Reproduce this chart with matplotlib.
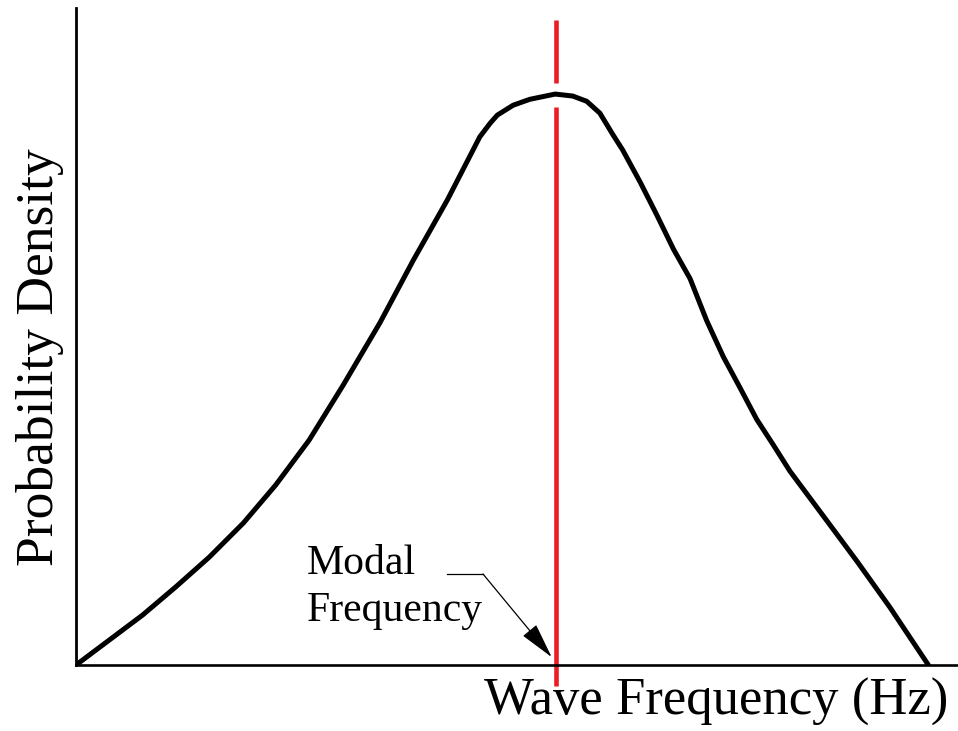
import numpy as np
import matplotlib.pyplot as plt

freq = [0.0, 3.8, 7.6, 11.4, 15.2, 19.1, 22.8, 26.6, 30.5, 34.7, 38.5, 42.4,
        46.1, 47.3, 48.1, 49.9, 51.8, 54.7, 56.7, 58.3, 59.8, 61.3, 62.4,
        64.4, 66.3, 68.2, 70.1, 72.0, 73.9, 75.8, 77.7, 79.6, 81.5, 85.3,
        89.2, 92.9, 97.3]
density = [0.0, 3.8, 7.6, 11.9, 16.4, 21.6, 27.4, 34.2, 42.6, 52.1, 61.6, 70.8,
           80.4, 82.5, 83.7, 85.2, 86.1, 86.9, 86.6, 85.8, 84.0, 80.7, 78.4,
           73.5, 68.5, 63.3, 58.8, 52.4, 46.9, 42.2, 37.4, 33.5, 29.5, 22.7,
           15.7, 8.8, 0.0]

modal_freq = 54.8
# red marker runs above and below the curve, broken where the curve crosses
modal_top = 98.2
modal_gap = (88.6, 84.9)
modal_bottom = -3.2

serif = ['Liberation Serif', 'DejaVu Serif']

fig = plt.figure(figsize=(9.58, 7.31), dpi=100)
ax = fig.add_axes([76 / 958, 66 / 731, 881 / 958, 657 / 731])

ax.plot(freq, density, color='black', lw=3.6, solid_capstyle='round',
        solid_joinstyle='round', zorder=3)

ax.plot([modal_freq, modal_freq], [modal_top, modal_gap[0]], color='#ed1c24',
        lw=3.3, solid_capstyle='butt', clip_on=False, zorder=2)
ax.plot([modal_freq, modal_freq], [modal_gap[1], modal_bottom], color='#ed1c24',
        lw=3.3, solid_capstyle='butt', clip_on=False, zorder=2)

# callout for the modal frequency
ax.text(26.34, 6.74, 'Modal\nFrequency', family=serif, fontsize=30,
        ha='left', va='baseline', linespacing=1.27)
ax.plot([42.35, 46.46], [13.85, 13.85], color='black', lw=0.9)
ax.annotate('', xy=(54.3, 1.2), xytext=(46.46, 13.85),
            arrowprops=dict(arrowstyle='-|>,head_length=0.9,head_width=0.22',
                            color='black', lw=0.9, mutation_scale=25,
                            shrinkA=0, shrinkB=0))

ax.set_xlim(0, 100.57)
ax.set_ylim(0, 100)
ax.set_xticks([])
ax.set_yticks([])
for side in ['top', 'right']:
    ax.spines[side].set_visible(False)
ax.spines['left'].set_linewidth(2.0)
ax.spines['bottom'].set_linewidth(1.9)

fig.text(716 / 958, 16 / 731, 'Wave Frequency (Hz)', family=serif,
         fontsize=38, ha='center', va='baseline')
fig.text(53 / 958, 1 - 357.5 / 731, 'Probability Density', family=serif,
         fontsize=38.5, rotation=90, rotation_mode='anchor',
         ha='center', va='baseline')

fig.savefig('out.png', dpi=100)
